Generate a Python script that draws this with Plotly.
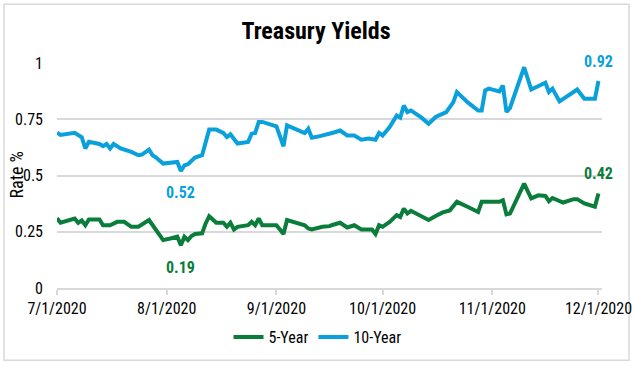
import datetime as dt
import plotly.graph_objects as go

# ---------------- data ----------------
START = dt.date(2020, 7, 1)

days_10y = [0, 1, 5, 7, 8, 9, 12, 13, 14, 15, 16, 18, 21, 23, 24, 26, 27, 28, 30, 32,
            34, 35, 36, 37, 38, 39, 41, 42, 43, 45, 47, 48, 49, 51, 54, 55, 56, 57, 58,
            62, 63, 64, 65, 68, 70, 71, 72, 74, 76, 78, 80, 82, 84, 86, 88, 90, 91, 92,
            94, 96, 97, 98, 99, 100, 103, 105, 107, 110, 112, 113, 116, 119, 120, 121,
            122, 125, 126, 127, 128, 132, 134, 138, 139, 140, 142, 145, 147, 149, 152, 153]
yield_10y = [0.69, 0.68, 0.69, 0.67, 0.62, 0.65, 0.64, 0.63, 0.64, 0.62, 0.64, 0.62, 0.605,
             0.59, 0.593, 0.615, 0.59, 0.58, 0.553, 0.556, 0.56, 0.52, 0.545, 0.55, 0.568,
             0.58, 0.59, 0.656, 0.704, 0.704, 0.689, 0.671, 0.683, 0.642, 0.649, 0.686,
             0.689, 0.738, 0.738, 0.718, 0.678, 0.63, 0.723, 0.704, 0.689, 0.708, 0.668,
             0.674, 0.681, 0.69, 0.70, 0.678, 0.678, 0.659, 0.664, 0.659, 0.689, 0.678,
             0.715, 0.767, 0.757, 0.811, 0.782, 0.789, 0.757, 0.73, 0.76, 0.782, 0.826,
             0.871, 0.826, 0.789, 0.789, 0.878, 0.886, 0.874, 0.90, 0.782, 0.80, 0.981,
             0.882, 0.912, 0.871, 0.886, 0.829, 0.859, 0.882, 0.841, 0.841, 0.92]

days_5y = [0, 1, 5, 6, 7, 8, 9, 12, 13, 15, 17, 19, 21, 23, 26, 28, 30, 32, 34, 35, 36, 37,
           38, 39, 41, 42, 43, 45, 47, 48, 49, 50, 51, 54, 55, 56, 57, 58, 62, 63, 64, 65,
           68, 70, 71, 72, 75, 77, 78, 80, 82, 84, 86, 89, 90, 91, 92, 94, 96, 97, 98, 99,
           100, 103, 105, 107, 109, 111, 113, 116, 119, 120, 125, 126, 127, 128, 132, 134,
           136, 138, 139, 140, 143, 146, 147, 149, 152, 153]
yield_5y = [0.31, 0.29, 0.309, 0.29, 0.30, 0.279, 0.305, 0.305, 0.279, 0.279, 0.294, 0.294,
            0.272, 0.272, 0.302, 0.26, 0.213, 0.22, 0.228, 0.19, 0.228, 0.213, 0.231, 0.24,
            0.243, 0.287, 0.319, 0.29, 0.29, 0.272, 0.29, 0.26, 0.272, 0.279, 0.294, 0.279,
            0.309, 0.279, 0.279, 0.26, 0.24, 0.302, 0.287, 0.279, 0.265, 0.26, 0.272, 0.275,
            0.281, 0.29, 0.269, 0.279, 0.26, 0.26, 0.24, 0.279, 0.272, 0.294, 0.324, 0.316,
            0.353, 0.331, 0.343, 0.319, 0.302, 0.32, 0.336, 0.345, 0.383, 0.361, 0.338,
            0.383, 0.383, 0.39, 0.327, 0.331, 0.464, 0.398, 0.412, 0.409, 0.386, 0.40, 0.38,
            0.395, 0.395, 0.376, 0.361, 0.42]

tick_dates = ["2020-07-01", "2020-08-01", "2020-09-01", "2020-10-01", "2020-11-01", "2020-12-01"]
tick_labels = ["7/1/2020", "8/1/2020", "9/1/2020", "10/1/2020", "11/1/2020", "12/1/2020"]
y_ticks = [0, 0.25, 0.5, 0.75, 1]
y_tick_labels = ["0", "0.25", "0.5", "0.75", "1"]

dates_10y = [START + dt.timedelta(days=d) for d in days_10y]
dates_5y = [START + dt.timedelta(days=d) for d in days_5y]

GREEN = "#0B7D3B"
BLUE = "#0AA0DC"
FONT = "Roboto Condensed, Liberation Sans Narrow, Arial Narrow, sans-serif"

fig = go.Figure()
fig.add_trace(go.Scatter(x=dates_5y, y=yield_5y, mode="lines", name="5-Year",
                         line=dict(color=GREEN, width=4)))
fig.add_trace(go.Scatter(x=dates_10y, y=yield_10y, mode="lines", name="10-Year",
                         line=dict(color=BLUE, width=4)))

# data labels: last value and minimum of each series
def add_label(dates, vals, idx, color, shift):
    fig.add_annotation(x=dates[idx], y=vals[idx], text=f"<b>{vals[idx]:.2f}</b>", showarrow=False,
                       yshift=shift, font=dict(family=FONT, size=16, color=color),
                       xanchor="center")

i_min10 = yield_10y.index(min(yield_10y))
i_min5 = yield_5y.index(min(yield_5y))
add_label(dates_10y, yield_10y, len(yield_10y) - 1, BLUE, 20)
add_label(dates_5y, yield_5y, len(yield_5y) - 1, GREEN, 20)
add_label(dates_10y, yield_10y, i_min10, BLUE, -21)
add_label(dates_5y, yield_5y, i_min5, GREEN, -22)

# layout geometry (pixels)
W, H = 635, 366
L, R, T, B = 57, 33, 62.5, 78
pw, ph = W - L - R, H - T - B
def px(x):
    return (x - L) / pw
def py(y):
    return (H - B - y) / ph

# y-axis title
fig.add_annotation(x=px(16), y=0.5, xref="paper", yref="paper", text="Rate %",
                   textangle=-90, showarrow=False, xanchor="center", yanchor="middle",
                   font=dict(family=FONT, size=18, color="#000000"))

# border around chart
fig.add_shape(type="rect", xref="paper", yref="paper",
              x0=px(4), x1=px(629), y0=py(3.5), y1=py(360.5),
              line=dict(color="#D9D9D9", width=1.5), fillcolor="rgba(0,0,0,0)", layer="below")

fig.update_layout(
    width=W, height=H,
    margin=dict(l=L, r=R, t=T, b=B, autoexpand=False),
    paper_bgcolor="white", plot_bgcolor="white",
    font=dict(family=FONT, size=15, color="#000000"),
    title=dict(text="<b>Treasury Yields</b>", x=316 / W, xref="container", xanchor="center",
               y=1 - 31 / H, yanchor="middle",
               font=dict(family=FONT, size=24, color="#000000")),
    showlegend=True,
    legend=dict(orientation="h", x=0.5, xanchor="center", xref="container",
                y=1 - 337 / H, yref="container", yanchor="middle",
                font=dict(family=FONT, size=16), itemwidth=30, traceorder="normal"),
)
fig.update_xaxes(type="date", range=["2020-07-01", "2020-12-02"], automargin=False,
                 tickvals=tick_dates, ticktext=tick_labels,
                 showgrid=False, showline=True, linecolor="#D9D9D9", linewidth=1.5,
                 ticks="outside", ticklen=5, tickcolor="#D9D9D9", tickwidth=1.5,
                 zeroline=False, tickfont=dict(family=FONT, size=16))
fig.update_yaxes(range=[0, 1], tickvals=y_ticks, ticktext=y_tick_labels, automargin=False,
                 showgrid=True, gridcolor="#D9D9D9", gridwidth=1.5, zeroline=False,
                 showline=False, ticks="", ticklabelstandoff=13,
                 tickfont=dict(family=FONT, size=16))

fig.write_html("out.html", config={"displayModeBar": False},
               post_script="document.body.style.margin='0';")
